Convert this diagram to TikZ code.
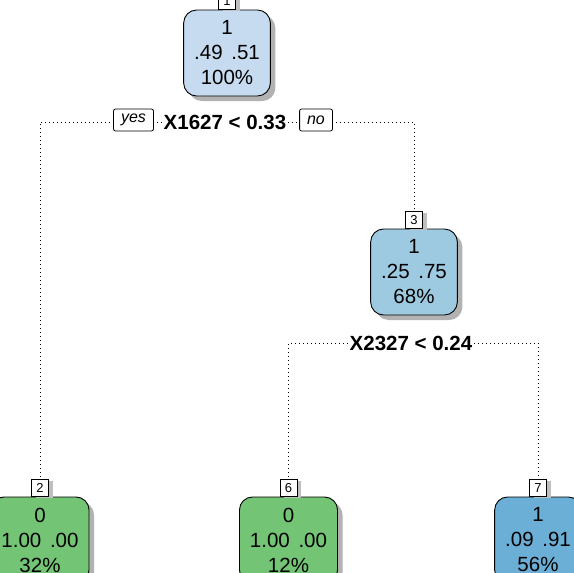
\documentclass[tikz,border=0pt]{standalone}
\usepackage{fontspec}
\setmainfont{Liberation Sans}
\usetikzlibrary{positioning,shadows,backgrounds}
\definecolor{blueA}{RGB}{198,219,239}
\definecolor{blueB}{RGB}{158,202,225}
\definecolor{blueC}{RGB}{107,174,214}
\definecolor{greenA}{RGB}{116,196,118}
\newcommand{\pgap}{\ \hspace{3pt}}
\tikzset{
  treenode/.style={draw, line width=0.9pt, rounded corners=13pt, align=center,
    inner xsep=10.5pt, minimum height=86pt, font=\fontsize{20.5}{25}\selectfont,
    drop shadow={shadow xshift=5pt, shadow yshift=-5pt, fill=black!30, opacity=1}},
  tagbox/.style={draw, fill=white, line width=0.8pt, minimum width=17pt,
    minimum height=17pt, inner sep=0pt, font=\fontsize{13}{13}\selectfont,
    drop shadow={shadow xshift=4pt, shadow yshift=-2pt, fill=black!25, opacity=1}},
  splitlabel/.style={fill=white, inner sep=2pt, font=\fontsize{20.5}{24}\bfseries\selectfont},
  yesno/.style={draw, fill=white, rounded corners=2pt, line width=0.8pt,
    inner xsep=7.5pt, minimum height=22pt, font=\fontsize{16}{16}\itshape\selectfont},
  branch/.style={line width=1pt, dash pattern=on 1pt off 3pt}
}
\begin{document}
\begin{tikzpicture}[x=1pt,y=-1pt]
\useasboundingbox (0,0) rectangle (574,573);

% boxes
\node[treenode, fill=blueA] (n1) at (227,53) {1\\.49\pgap.51\\100\%};
\node[treenode, fill=blueB] (n3) at (414,272) {1\\.25\pgap.75\\68\%};
\node[treenode, fill=greenA] (n2) at (40,540) {0\\1.00\pgap.00\\32\%};
\node[treenode, fill=greenA] (n6) at (288.5,540) {0\\1.00\pgap.00\\12\%};
\node[treenode, fill=blueC] (n7) at (538,540) {1\\.09\pgap.91\\56\%};

% node numbers
\node[tagbox, above=0pt of n1] (t1) {1};
\node[tagbox, above=0pt of n3] (t3) {3};
\node[tagbox, above=0pt of n2] (t2) {2};
\node[tagbox, above=0pt of n6] (t6) {6};
\node[tagbox, above=0pt of n7] (t7) {7};

% splits
\node[splitlabel] (s1) at (225,122) {X1627 < 0.33};
\node[yesno] (yes) at (133.5,120) {yes};
\node[yesno] (no) at (316,120) {no};
\node[splitlabel] (s2) at (411,343) {X2327 < 0.24};

\begin{scope}[on background layer]
\draw[branch] (s1) -| (t2);
\draw[branch] (s1) -| (t3);
\draw[branch] (s2) -| (t6);
\draw[branch] (s2) -| (t7);
\end{scope}
\end{tikzpicture}
\end{document}
